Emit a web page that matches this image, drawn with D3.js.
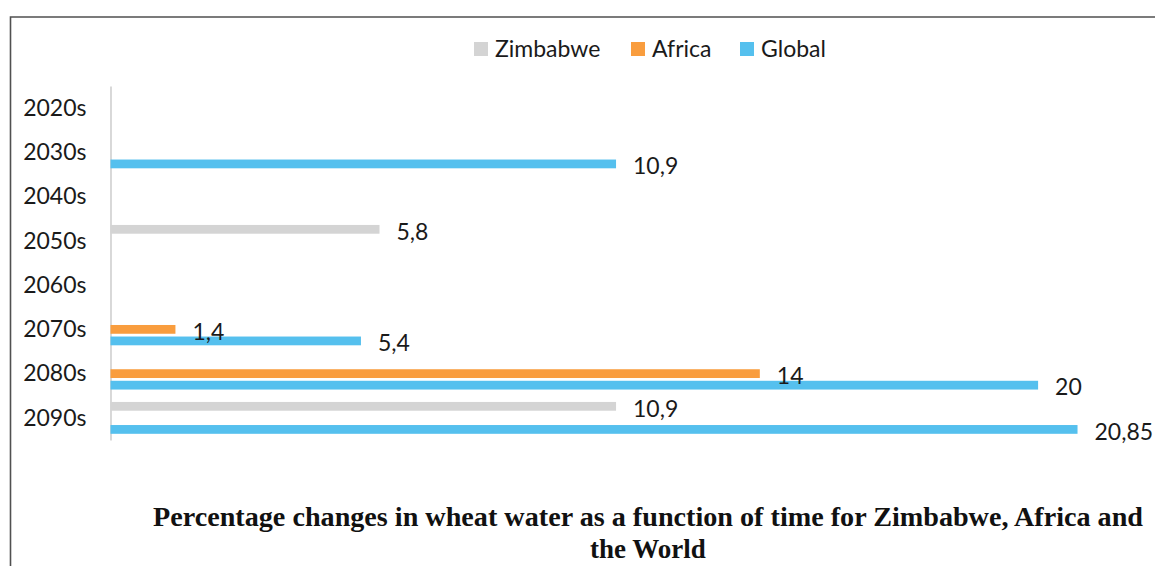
<!DOCTYPE html>
<html>
<head>
<meta charset="utf-8">
<script src="https://cdn.jsdelivr.net/npm/d3@7"></script>
<style>
  html, body { margin: 0; padding: 0; background: #fff; }
  svg { display: block; }
</style>
</head>
<body>
<svg id="chart" width="1155" height="566"></svg>
<script>
// ---- Data ----
const categories = ["2020s", "2030s", "2040s", "2050s", "2060s", "2070s", "2080s", "2090s"];
const seriesNames = ["Zimbabwe", "Africa", "Global"];
const zimbabwe = [null, null, null, 5.8, null, null, null, 10.9];
const africa   = [null, null, null, null, null, 1.4, 14, null];
const global   = [null, 10.9, null, null, null, 5.4, 20, 20.85];
const valueLabels = {
  Zimbabwe: [null, null, null, "5,8", null, null, null, "10,9"],
  Africa:   [null, null, null, null, null, "1,4", "14", null],
  Global:   [null, "10,9", null, null, null, "5,4", "20", "20,85"]
};
const titleLines = [
  "Percentage changes in wheat water as a function of time for Zimbabwe, Africa and",
  "the World"
];
const colors = { Zimbabwe: "#d4d4d4", Africa: "#f99d3e", Global: "#55c0ee" };

const seriesValues = { Zimbabwe: zimbabwe, Africa: africa, Global: global };

// ---- Layout ----
const svg = d3.select("#chart");
const FONT = "Lato, 'Open Sans', sans-serif";

// frame
svg.append("path")
  .attr("d", "M10.5,566 L10.5,17 L1155,17")
  .attr("fill", "none").attr("stroke", "#505050").attr("stroke-width", 1.6);

const x = d3.scaleLinear().domain([0, 22]).range([110.5, 110.5 + 22 * 46.38]);
const y = d3.scaleBand().domain(categories).range([86, 440])
  .paddingInner(0.28).paddingOuter(0.14);
const yInner = d3.scaleBand().domain(seriesNames).range([0, y.bandwidth()])
  .paddingInner(0.24).paddingOuter(0);

// axis
const axis = svg.append("g")
  .attr("transform", "translate(110.5,0)")
  .call(d3.axisLeft(y).tickSizeInner(0).tickSizeOuter(0).tickPadding(24));
axis.select(".domain").attr("stroke", "#bfbfbf").attr("stroke-width", 1.2);
axis.selectAll("text")
  .attr("font-family", FONT).attr("font-size", 23).attr("fill", "#1a1a1a")
  .attr("dy", "0.34em");

// bars
const flat = [];
seriesNames.forEach(s => {
  seriesValues[s].forEach((v, i) => {
    if (v !== null) flat.push({ series: s, cat: categories[i], value: v, label: valueLabels[s][i] });
  });
});

svg.append("g").selectAll("rect").data(flat).join("rect")
  .attr("x", x(0))
  .attr("y", d => y(d.cat) + yInner(d.series))
  .attr("width", d => x(d.value) - x(0))
  .attr("height", yInner.bandwidth())
  .attr("fill", d => colors[d.series]);

svg.append("g").selectAll("text").data(flat).join("text")
  .attr("x", d => x(d.value) + 17)
  .attr("y", d => y(d.cat) + yInner(d.series) + yInner.bandwidth() / 2 + 2)
  .attr("dy", "0.36em")
  .attr("font-family", FONT).attr("font-size", 23).attr("fill", "#1a1a1a")
  .text(d => d.label);

// legend
const legendX = { Zimbabwe: 474, Africa: 631, Global: 740 };
const legend = svg.append("g").selectAll("g").data(seriesNames).join("g")
  .attr("transform", d => `translate(${legendX[d]},42)`);
legend.append("rect").attr("width", 14).attr("height", 14).attr("fill", d => colors[d]);
legend.append("text")
  .attr("x", 21).attr("y", 7).attr("dy", "0.36em")
  .attr("font-family", FONT).attr("font-size", 23).attr("fill", "#1a1a1a")
  .text(d => d);

// title
const title = svg.append("g")
  .attr("font-family", "'Liberation Serif', 'Times New Roman', serif")
  .attr("font-weight", "bold").attr("font-size", 27).attr("fill", "#111")
  .attr("text-anchor", "middle");
title.append("text").attr("x", 648).attr("y", 526)
  .attr("textLength", 990).attr("lengthAdjust", "spacingAndGlyphs")
  .text(titleLines[0]);
title.append("text").attr("x", 648).attr("y", 558)
  .text(titleLines[1]);
</script>
</body>
</html>
